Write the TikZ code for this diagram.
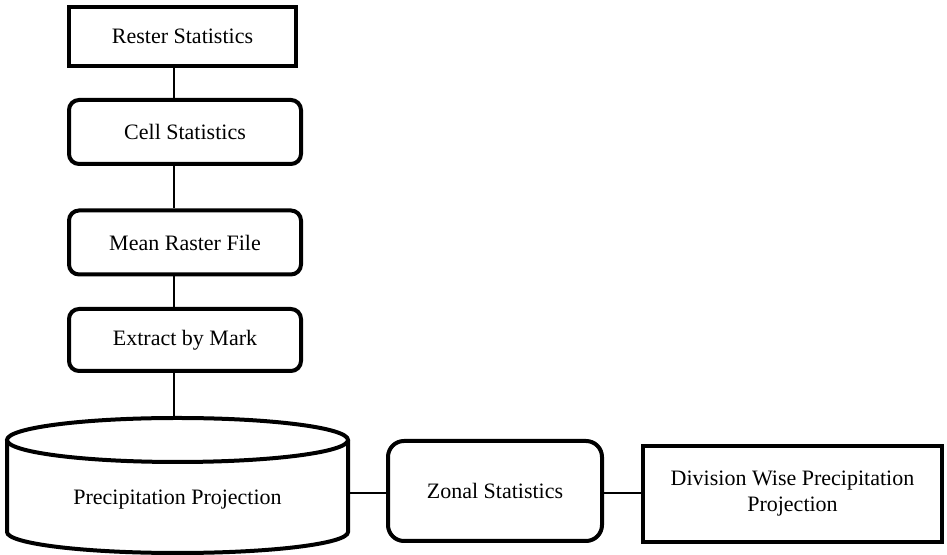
\documentclass[tikz,border=0pt]{standalone}
\usepackage{fontspec}
\setmainfont{Liberation Serif}
\usetikzlibrary{positioning}

\begin{document}
\begin{tikzpicture}[
  x=0.5pt, y=0.5pt,
  every node/.style={font=\fontsize{11}{13}\selectfont},
  sharpbox/.style={rectangle, draw, line width=2pt, inner sep=2pt},
  roundbox/.style={rectangle, draw, line width=2pt, rounded corners=5pt, inner sep=2pt},
  cyl/.style={line width=2pt},
  link/.style={line width=0.75pt},
]
  \useasboundingbox (0,0) rectangle (947,555);

  \node[sharpbox, minimum width=113.5pt, minimum height=29.5pt] (rester) at (182.5, 518.5) {Rester Statistics};
  \node[roundbox, minimum width=116pt, minimum height=32pt] (cell) at (185, 423) {Cell Statistics};
  \node[roundbox, minimum width=116pt, minimum height=32pt] (mean) at (185, 312.5) {Mean Raster File};
  \node[roundbox, minimum width=116pt, minimum height=31pt] (extract) at (185, 215) {Extract by Mark};

  % data store
  \draw[cyl] (177.5, 115) ellipse [x radius=170.5, y radius=22];
  \draw[cyl] (7, 115) -- (7, 23) arc [start angle=180, end angle=360, x radius=170.5, y radius=21] -- (348, 115);
  \node (precip) at (177.5, 55) {Precipitation Projection};
  \coordinate (cyltop) at (177.5, 137);
  \coordinate (cylright) at (348, 62);

  \node[roundbox, rounded corners=8pt, minimum width=107pt, minimum height=50pt] (zonal) at (495, 64) {Zonal Statistics};
  \node[sharpbox, align=center, minimum width=149.5pt, minimum height=48pt] (division) at (792.5, 61) {Division Wise Precipitation\\Projection};

  \coordinate (spine) at (174, 0);

  \draw[link] (rester.south -| spine) -- (cell.north -| spine);
  \draw[link] (cell.south -| spine) -- (mean.north -| spine);
  \draw[link] (mean.south -| spine) -- (extract.north -| spine);
  \draw[link] (extract.south -| spine) -- (cyltop -| spine);
  \draw[link] (cylright) -- (cylright -| zonal.west);
  \draw[link] (zonal.east |- cylright) -- (division.west |- cylright);
\end{tikzpicture}
\end{document}
